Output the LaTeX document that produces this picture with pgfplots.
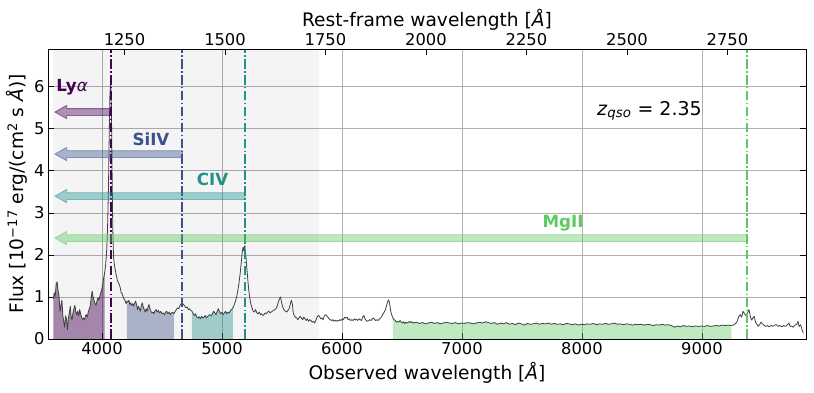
\documentclass[border=0pt]{standalone}
\usepackage{fontspec}
\setmainfont{DejaVu Sans}
\usepackage{pgfplots}
\pgfplotsset{compat=1.18}
\usepackage{pgfplotstable}

\definecolor{cLya}{HTML}{440154}
\definecolor{cSi}{HTML}{3B528B}
\definecolor{cC}{HTML}{21918C}
\definecolor{cMg}{HTML}{5EC962}
\definecolor{gridc}{HTML}{B0B0B0}

\newcommand{\tickfont}{\fontsize{16.3}{19}\selectfont}
\newcommand{\labfont}{\fontsize{18.6}{22}\selectfont}
\newcommand{\annfont}{\fontsize{16.7}{20}\selectfont}

% x0 (line position), y, colour
\newcommand{\larrow}[3]{%
  \filldraw[fill=#3, draw=#3, fill opacity=0.4, draw opacity=0.55, line width=0.8pt]
    ([yshift=-3.4pt]axis cs:#1,#2) -- ([xshift=11.7pt,yshift=-3.4pt]axis cs:3608,#2)
    -- ([xshift=11.7pt,yshift=-6.6pt]axis cs:3608,#2) -- (axis cs:3608,#2)
    -- ([xshift=11.7pt,yshift=6.6pt]axis cs:3608,#2) -- ([xshift=11.7pt,yshift=3.4pt]axis cs:3608,#2)
    -- ([yshift=3.4pt]axis cs:#1,#2) -- cycle;}

\pgfplotstableread{
wl flux
3594 0.95
3602 1.10
3610 1.02
3618 1.30
3626 1.36
3634 1.15
3642 1.02
3650 0.65
3658 0.80
3666 0.92
3674 0.55
3682 0.40
3688 0.28
3696 0.55
3704 0.48
3712 0.22
3720 0.50
3728 0.62
3736 0.78
3742 0.55
3750 0.45
3758 0.62
3766 0.72
3774 0.80
3782 0.65
3790 0.58
3798 0.66
3806 0.55
3814 0.70
3822 0.60
3830 0.52
3838 0.47
3846 0.50
3854 0.45
3862 0.55
3870 0.58
3878 0.52
3886 0.65
3894 0.72
3902 0.78
3910 0.98
3918 1.14
3926 1.00
3934 0.92
3942 0.85
3950 0.80
3958 0.90
3966 0.98
3974 0.92
3982 1.02
3990 1.10
3998 1.18
4006 1.30
4014 1.45
4022 1.58
4030 1.75
4038 2.05
4046 2.60
4054 3.60
4060 4.80
4066 5.80
4072 6.15
4078 5.60
4084 4.00
4090 2.60
4096 1.95
4104 1.75
4112 1.62
4120 1.50
4128 1.40
4136 1.34
4144 1.30
4152 1.22
4160 1.10
4168 1.08
4176 1.00
4184 0.95
4192 0.92
4200 0.84
4208 0.90
4216 0.88
4224 0.92
4232 0.82
4240 0.86
4248 0.80
4256 0.84
4264 0.78
4272 0.85
4280 0.90
4288 0.82
4296 0.70
4304 0.78
4312 0.72
4320 0.66
4328 0.80
4336 0.86
4344 0.76
4352 0.70
4360 0.64
4368 0.72
4376 0.66
4384 0.76
4392 0.82
4400 0.72
4408 0.66
4416 0.62
4424 0.64
4432 0.60
4440 0.66
4450 0.70
4460 0.64
4470 0.68
4480 0.62
4490 0.66
4500 0.60
4510 0.62
4520 0.58
4530 0.64
4540 0.66
4550 0.60
4560 0.64
4570 0.58
4580 0.62
4590 0.64
4600 0.60
4610 0.66
4620 0.70
4630 0.74
4640 0.72
4650 0.80
4660 0.84
4670 0.85
4680 0.82
4690 0.78
4700 0.74
4710 0.76
4720 0.70
4730 0.72
4740 0.68
4750 0.66
4760 0.60
4770 0.56
4780 0.60
4790 0.52
4800 0.50
4810 0.53
4820 0.48
4830 0.54
4840 0.50
4850 0.52
4860 0.56
4870 0.50
4880 0.54
4890 0.56
4900 0.58
4910 0.55
4920 0.60
4930 0.66
4940 0.62
4950 0.58
4960 0.66
4970 0.72
4980 0.64
4990 0.60
5000 0.64
5010 0.58
5020 0.62
5030 0.66
5040 0.60
5050 0.64
5060 0.62
5070 0.68
5080 0.70
5090 0.74
5100 0.80
5110 0.88
5120 0.98
5130 1.12
5140 1.30
5150 1.52
5160 1.80
5168 2.05
5176 2.18
5182 2.10
5188 2.22
5194 2.12
5200 1.95
5206 1.72
5212 1.52
5220 1.25
5228 1.05
5236 0.90
5244 0.80
5252 0.72
5260 0.66
5270 0.64
5280 0.70
5290 0.62
5300 0.60
5310 0.64
5320 0.58
5330 0.60
5340 0.56
5350 0.58
5360 0.62
5370 0.60
5380 0.64
5390 0.66
5400 0.62
5410 0.64
5420 0.66
5430 0.68
5440 0.70
5450 0.72
5460 0.78
5470 0.88
5480 0.96
5488 1.00
5496 0.88
5504 0.78
5512 0.72
5520 0.68
5530 0.66
5540 0.64
5550 0.68
5560 0.72
5570 0.84
5578 0.92
5586 0.84
5594 0.62
5602 0.56
5612 0.52
5622 0.50
5632 0.46
5642 0.50
5652 0.54
5662 0.50
5672 0.46
5682 0.52
5692 0.48
5702 0.44
5712 0.48
5722 0.42
5732 0.46
5742 0.44
5752 0.40
5762 0.42
5772 0.38
5782 0.44
5792 0.52
5802 0.56
5812 0.54
5822 0.48
5832 0.50
5842 0.46
5852 0.54
5862 0.58
5872 0.56
5882 0.52
5892 0.48
5902 0.46
5912 0.44
5922 0.46
5932 0.42
5942 0.45
5952 0.42
5962 0.44
5972 0.43
5982 0.46
5992 0.44
6002 0.48
6012 0.46
6022 0.52
6032 0.50
6042 0.52
6052 0.46
6062 0.48
6072 0.44
6082 0.46
6092 0.44
6102 0.48
6112 0.45
6122 0.47
6132 0.44
6142 0.48
6152 0.46
6162 0.44
6172 0.52
6182 0.56
6192 0.48
6202 0.44
6212 0.42
6222 0.44
6232 0.46
6242 0.44
6252 0.48
6262 0.50
6272 0.46
6282 0.44
6292 0.46
6302 0.44
6312 0.48
6322 0.50
6332 0.54
6342 0.60
6352 0.64
6362 0.70
6372 0.80
6382 0.90
6390 0.93
6398 0.82
6406 0.66
6414 0.58
6424 0.50
6434 0.46
6444 0.44
6454 0.40
6464 0.42
6474 0.40
6484 0.44
6494 0.40
6504 0.38
6514 0.41
6524 0.37
6534 0.40
6544 0.38
6554 0.40
6564 0.42
6574 0.39
6584 0.41
6594 0.38
6620 0.40
6645 0.37
6670 0.39
6695 0.36
6720 0.38
6745 0.40
6770 0.37
6795 0.39
6820 0.36
6845 0.38
6870 0.40
6895 0.38
6920 0.37
6945 0.39
6970 0.36
6995 0.38
7020 0.37
7045 0.39
7070 0.38
7095 0.36
7120 0.38
7145 0.40
7170 0.38
7195 0.41
7220 0.39
7245 0.37
7270 0.39
7295 0.35
7320 0.38
7345 0.36
7370 0.39
7395 0.35
7420 0.37
7445 0.34
7470 0.38
7495 0.36
7520 0.33
7545 0.37
7570 0.35
7595 0.36
7620 0.38
7645 0.35
7670 0.37
7695 0.36
7720 0.38
7745 0.35
7770 0.37
7795 0.35
7820 0.36
7845 0.34
7870 0.37
7895 0.36
7920 0.34
7945 0.36
7970 0.33
7995 0.35
8020 0.34
8045 0.36
8070 0.35
8095 0.37
8120 0.34
8145 0.36
8170 0.35
8195 0.37
8220 0.35
8245 0.36
8270 0.38
8295 0.35
8320 0.36
8345 0.34
8370 0.36
8395 0.35
8420 0.33
8445 0.35
8470 0.34
8495 0.35
8520 0.33
8545 0.35
8570 0.34
8595 0.32
8620 0.34
8645 0.33
8670 0.35
8695 0.33
8720 0.34
8745 0.32
8770 0.28
8795 0.31
8820 0.29
8845 0.32
8870 0.30
8895 0.31
8920 0.29
8945 0.31
8970 0.30
8995 0.31
9020 0.30
9045 0.32
9070 0.30
9095 0.31
9120 0.32
9145 0.31
9170 0.33
9195 0.32
9220 0.33
9245 0.32
9270 0.34
9290 0.40
9305 0.52
9318 0.58
9330 0.52
9342 0.66
9355 0.60
9368 0.55
9380 0.62
9392 0.70
9404 0.52
9414 0.45
9424 0.50
9436 0.54
9446 0.40
9456 0.36
9468 0.30
9480 0.34
9492 0.40
9504 0.36
9516 0.33
9530 0.30
9545 0.32
9560 0.29
9575 0.32
9590 0.30
9605 0.33
9620 0.34
9635 0.30
9650 0.32
9665 0.29
9680 0.32
9695 0.30
9710 0.33
9725 0.38
9735 0.30
9748 0.31
9760 0.28
9775 0.33
9790 0.35
9800 0.42
9810 0.30
9822 0.34
9834 0.22
9845 0.14
}\spec

\begin{document}
\begin{tikzpicture}
\begin{axis}[
    name=main,
    scale only axis,
    width=758pt, height=290pt,
    xmin=3550, xmax=9867,
    ymin=0, ymax=6.9,
    xtick={4000,5000,6000,7000,8000,9000},
    ytick={0,1,2,3,4,5,6},
    xtick pos=bottom,
    ytick pos=both,
    yticklabel pos=left,
    tick align=inside,
    major tick length=6pt,
    tick style={black, line width=0.8pt},
    axis line style={black, line width=0.8pt},
    grid=major,
    grid style={gridc, line width=0.8pt},
    /pgf/number format/assume math mode=true,
    /pgf/number format/1000 sep={},
    tick label style={font=\tickfont},
    label style={font=\labfont},
    xlabel={Observed wavelength [\textit{Å}]},
    ylabel={Flux [10\textsuperscript{−17} erg/(cm\textsuperscript{2} s \textit{Å})]},
    xlabel style={yshift=-1pt},
    ylabel style={yshift=0pt},
    clip=true,
]
% rest-frame UV region shading
\fill[black, fill opacity=0.045] (axis cs:3594,0) rectangle (axis cs:5810,6.9);

% continuum windows
\addplot[draw=none, fill=cLya, fill opacity=0.45, restrict x to domain=3590:4025] table[x=wl,y=flux] {\spec} \closedcycle;
\addplot[draw=none, fill=cSi, fill opacity=0.4, restrict x to domain=4205:4602] table[x=wl,y=flux] {\spec} \closedcycle;
\addplot[draw=none, fill=cC, fill opacity=0.4, restrict x to domain=4748:5092] table[x=wl,y=flux] {\spec} \closedcycle;
\addplot[draw=none, fill=cMg, fill opacity=0.4, restrict x to domain=6420:9250] table[x=wl,y=flux] {\spec} \closedcycle;

% spectrum
\addplot[black!75, line width=0.8pt, line join=round] table[x=wl,y=flux] {\spec};

% emission lines
\draw[cLya, line width=1.9pt, dash pattern=on 9.6pt off 2.4pt on 1.5pt off 2.4pt] (axis cs:4072,0) -- (axis cs:4072,6.9);
\draw[cSi, line width=1.9pt, dash pattern=on 9.6pt off 2.4pt on 1.5pt off 2.4pt] (axis cs:4670,0) -- (axis cs:4670,6.9);
\draw[cC, line width=1.9pt, dash pattern=on 9.6pt off 2.4pt on 1.5pt off 2.4pt] (axis cs:5189,0) -- (axis cs:5189,6.9);
\draw[cMg, line width=1.9pt, dash pattern=on 9.6pt off 2.4pt on 1.5pt off 2.4pt] (axis cs:9376,0) -- (axis cs:9376,6.9);

\larrow{4072}{5.4}{cLya}
\larrow{4670}{4.4}{cSi}
\larrow{5189}{3.4}{cC}
\larrow{9376}{2.4}{cMg}

\node[anchor=west, text=cLya, font=\annfont, inner sep=0pt] at (axis cs:3618,6.0) {\textbf{Ly}\textit{α}};
\node[text=cSi, font=\annfont\bfseries, inner sep=0pt] at (axis cs:4408,4.76) {SiIV};
\node[text=cC, font=\annfont\bfseries, inner sep=0pt] at (axis cs:4921,3.79) {CIV};
\node[text=cMg, font=\annfont\bfseries, inner sep=0pt] at (axis cs:7842,2.76) {MgII};
\node[anchor=west, font=\fontsize{19}{22}\selectfont, inner sep=0pt] at (axis cs:8125,5.43) {\textit{z}\textsubscript{\textit{qso}} = 2.35};

\coordinate (bl) at (rel axis cs:0,0);
\coordinate (tr) at (rel axis cs:1,1);
\end{axis}

% rest-frame axis on top
\begin{axis}[
    at={(main.south west)}, anchor=south west,
    scale only axis,
    width=758pt, height=290pt,
    xmin=3550, xmax=9867,
    ymin=0, ymax=6.9,
    axis x line*=top,
    axis y line=none,
    xtick={4187.5,5025,5862.5,6700,7537.5,8375,9212.5},
    xticklabels={1250,1500,1750,2000,2250,2500,2750},
    tick align=inside,
    major tick length=6pt,
    tick style={black, line width=0.8pt},
    axis line style={black, line width=0.8pt},
    tick label style={font=\tickfont},
    label style={font=\labfont},
    xlabel={Rest-frame wavelength [\textit{Å}]},
    xlabel style={yshift=-4pt},
]
\end{axis}

\pgfresetboundingbox
\path ([shift={(-48pt,-54pt)}]bl) rectangle ([shift={(8pt,49pt)}]tr);
\end{tikzpicture}
\end{document}
